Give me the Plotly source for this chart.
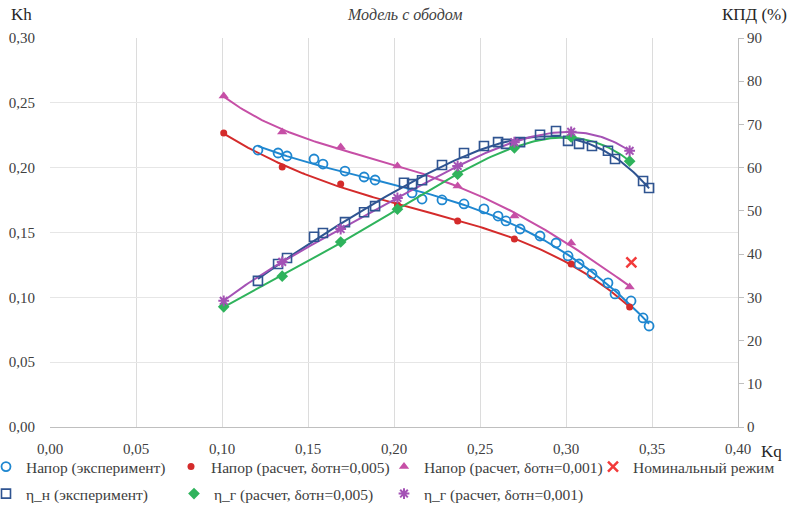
import numpy as np
import plotly.graph_objects as go

# ---- data ----
kq_circ = [0.1209, 0.1326, 0.1378, 0.1535, 0.1587, 0.1715, 0.1826, 0.1890, 0.2105, 0.2163,
           0.2279, 0.2407, 0.2523, 0.2605, 0.2651, 0.2733, 0.2849, 0.2942, 0.3012, 0.3076,
           0.3151, 0.3244, 0.3285, 0.3378, 0.3448, 0.3483]
kh_exp = [0.2136, 0.2113, 0.2090, 0.2067, 0.2028, 0.1974, 0.1928, 0.1905, 0.1805, 0.1758,
          0.1751, 0.1720, 0.1682, 0.1627, 0.1589, 0.1527, 0.1473, 0.1419, 0.1319, 0.1257,
          0.1180, 0.1111, 0.1026, 0.0972, 0.0841, 0.0779]

kq_sq = [0.1209, 0.1326, 0.1378, 0.1535, 0.1587, 0.1715, 0.1826, 0.1890, 0.2058, 0.2105,
         0.2163, 0.2279, 0.2407, 0.2523, 0.2605, 0.2651, 0.2733, 0.2849, 0.2942, 0.3012,
         0.3076, 0.3151, 0.3244, 0.3285, 0.3448, 0.3483]
eta_n_exp = [33.8, 37.7, 39.1, 44.0, 44.9, 47.4, 49.7, 51.1, 56.5, 56.2,
             57.1, 60.6, 63.4, 65.0, 65.9, 65.5, 65.9, 67.6, 68.5, 66.2,
             65.5, 65.0, 63.9, 62.0, 56.9, 55.3]

kq_calc = [0.101, 0.135, 0.169, 0.202, 0.237, 0.270, 0.303, 0.337]
kh_005 = [0.2267, 0.2005, 0.1874, 0.1712, 0.1589, 0.1450, 0.1257, 0.0925]
kh_001 = [0.2553, 0.2275, 0.2160, 0.2013, 0.1859, 0.1627, 0.1419, 0.1080]
eta_g_005 = [27.8, 34.9, 42.8, 50.4, 58.5, 64.6, 67.1, 61.5]
eta_g_001 = [29.2, 38.2, 45.8, 53.0, 60.4, 65.9, 68.3, 63.9]

kq_nom = [0.338]
kh_nom = [0.127]

x_ticks = [0.00, 0.05, 0.10, 0.15, 0.20, 0.25, 0.30, 0.35, 0.40]

# colours
C_BLUE = "#1f87d0"
C_RED = "#d42b2b"
C_MAG = "#c64fa6"
C_NAVY = "#2f5491"
C_GREEN = "#2fb35c"
C_PURP = "#a452b5"
C_X = "#f23a3a"

SERIF = "Liberation Serif"

fig = go.Figure()


def trend(x, y, deg):
    p = np.polyfit(x, y, deg)
    xs = np.linspace(min(x), max(x), 150)
    return xs, np.polyval(p, xs)


# trend lines
for xx, yy, col, ax, deg in [(kq_circ, kh_exp, C_BLUE, "y", 3),
                             (kq_sq, eta_n_exp, C_NAVY, "y2", 4),
                             (kq_calc, kh_005, C_RED, "y", 4),
                             (kq_calc, kh_001, C_MAG, "y", 4),
                             (kq_calc, eta_g_005, C_GREEN, "y2", 4),
                             (kq_calc, eta_g_001, C_PURP, "y2", 4)]:
    tx, ty = trend(xx, yy, deg)
    fig.add_trace(go.Scatter(x=tx, y=ty, mode="lines", line=dict(color=col, width=2),
                             showlegend=False, hoverinfo="skip", yaxis=ax))

# markers, each with its own legend box (positions in px of the 792x510 canvas)
PL, PW, PB, PH = 50, 688, 427, 389

markers = [
    ("legend", kq_circ, kh_exp, "y", "Напор (эксперимент)",
     dict(symbol="circle-open", size=9, color=C_BLUE, line=dict(width=1.8)), 5, 467),
    ("legend2", kq_calc, kh_005, "y", "Напор (расчет, δотн=0,005)",
     dict(symbol="circle", size=7, color=C_RED), 190, 467),
    ("legend3", kq_calc, kh_001, "y", "Напор (расчет, δотн=0,001)",
     dict(symbol="triangle-up", size=9, color=C_MAG), 403, 467),
    ("legend4", kq_nom, kh_nom, "y", "Номинальный режим",
     dict(symbol="x-thin-open", size=10, color=C_X, line=dict(width=2.5, color=C_X)), 612, 467),
    ("legend5", kq_sq, eta_n_exp, "y2", "η_н (эксперимент)",
     dict(symbol="square-open", size=9, color=C_NAVY, line=dict(width=1.6)), 5, 494),
    ("legend6", kq_calc, eta_g_005, "y2", "η_г (расчет, δотн=0,005)",
     dict(symbol="diamond", size=9, color=C_GREEN), 193, 494),
    ("legend7", kq_calc, eta_g_001, "y2", "η_г (расчет, δотн=0,001)",
     dict(symbol="asterisk-open", size=9, color=C_PURP, line=dict(width=2, color=C_PURP)), 403, 494),
]

legfont = dict(family=SERIF, size=15.5, color="#404040")
legends = {}
for lg, xx, yy, ax, name, mk, mx, my in markers:
    fig.add_trace(go.Scatter(x=xx, y=yy, mode="markers", name=name, marker=mk,
                             yaxis=ax, legend=lg))
    legends[lg] = dict(orientation="h", x=(mx - 19 - PL) / PW, xanchor="left",
                       y=(PB - my) / PH, yanchor="middle", font=legfont, itemwidth=30,
                       bgcolor="rgba(0,0,0,0)")

tickfont = dict(family=SERIF, size=15, color="#404040")

fig.update_layout(
    width=792, height=510,
    margin=dict(l=PL, r=792 - PL - PW, t=PB - PH, b=510 - PB, autoexpand=False),
    paper_bgcolor="white", plot_bgcolor="white",
    separators=", ",
    showlegend=True,
    xaxis=dict(range=[0, 0.40], tickvals=x_ticks, tickformat=".2f", tickfont=tickfont,
               showgrid=True, gridcolor="#dcdcdc", gridwidth=1, zeroline=False,
               showline=True, linecolor="#bfbfbf", linewidth=1, ticks="", ticklabelstandoff=8),
    yaxis=dict(range=[0, 0.30], dtick=0.05, tickformat=".2f", tickfont=tickfont,
               showgrid=True, gridcolor="#e6e6e6", gridwidth=1, zeroline=False,
               showline=False, ticks="", ticklabelstandoff=14),
    yaxis2=dict(range=[0, 90], dtick=10, overlaying="y", side="right", tickfont=tickfont,
                showgrid=False, zeroline=False, showline=True, linecolor="#bfbfbf", linewidth=1,
                ticks="outside", ticklen=5, tickcolor="#bfbfbf"),
    annotations=[
        dict(text="<i>Модель с ободом</i>", x=(404 - PL) / PW, y=(PB - 15) / PH, xref="paper", yref="paper",
             showarrow=False, font=dict(family=SERIF, size=16, color="#404040"),
             xanchor="center", yanchor="middle"),
        dict(text="Kh", x=(21 - PL) / PW, y=(PB - 15) / PH, xref="paper", yref="paper", showarrow=False,
             font=dict(family=SERIF, size=17, color="#262626"), xanchor="center", yanchor="middle"),
        dict(text="КПД (%)", x=(754 - PL) / PW, y=(PB - 15) / PH, xref="paper", yref="paper", showarrow=False,
             font=dict(family=SERIF, size=17, color="#262626"), xanchor="center", yanchor="middle"),
        dict(text="Kq", x=(771 - PL) / PW, y=(PB - 451) / PH, xref="paper", yref="paper", showarrow=False,
             font=dict(family=SERIF, size=17, color="#262626"), xanchor="center", yanchor="middle"),
    ],
)
fig.update_layout(**legends)

fig.write_html("out.html", post_script="document.body.style.margin='0';",
               config={"displayModeBar": False})
